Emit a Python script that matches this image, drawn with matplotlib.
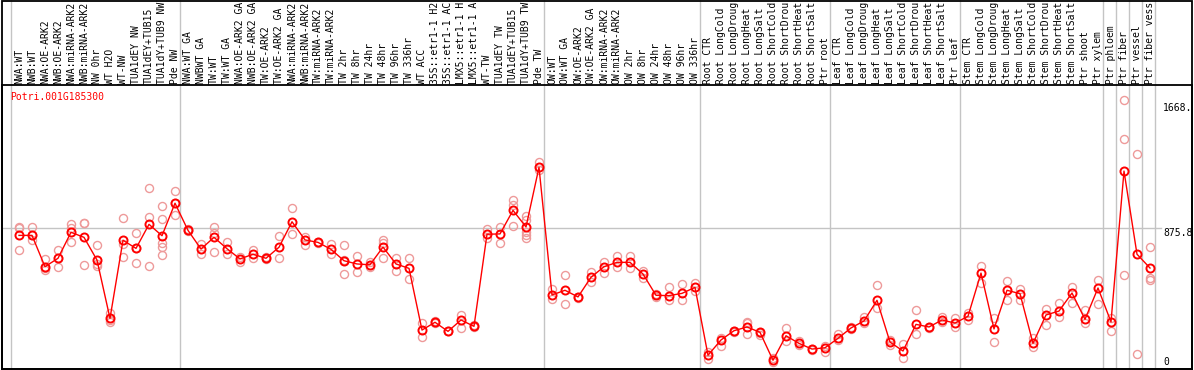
import matplotlib
matplotlib.use("Agg")
import matplotlib.pyplot as plt
from matplotlib.patches import Rectangle

# ---------------- data ----------------
gene_id = "Potri.001G185300"

# category names as displayed (the source chart shows at most 14 characters)
categories = [
    "NWA:WT", "NWB:WT", "NWA:OE-ARK2", "NWB:OE-ARK2", "NWA:miRNA-ARK2", "NWB:miRNA-ARK2",
    "NW 0hr", "WT H2O", "WT-NW", "TUA1dEY NW", "TUA1dEY+TUB15", "TUA1dY+TUB9 NW", "Pde NW",
    "NWA:WT GA", "NWBWT GA", "TW:WT", "TW:WT GA", "NWA:OE-ARK2 GA", "NWB:OE-ARK2 GA",
    "TW:OE-ARK2", "TW:OE-ARK2 GA", "NWA:miRNA-ARK2", "NWB:miRNA-ARK2", "TW:miRNA-ARK2",
    "TW:miRNA-ARK2", "TW 2hr", "TW 8hr", "TW 24hr", "TW 48hr", "TW 96hr", "TW 336hr",
    "WT ACC", "35S::etr1-1 H2", "35S::etr1-1 AC", "LMX5::etr1-1 H", "LMX5::etr1-1 A",
    "WT-TW", "TUA1dEY TW", "TUA1dEY+TUB15", "TUA1dY+TUB9 TW", "Pde TW",
    "OW:WT", "OW:WT GA", "OW:OE-ARK2", "OW:OE-ARK2 GA", "OW:miRNA-ARK2", "OW:miRNA-ARK2",
    "OW 2hr", "OW 8hr", "OW 24hr", "OW 48hr", "OW 96hr", "OW 336hr",
    "Root CTR", "Root LongCold", "Root LongDroug", "Root LongHeat", "Root LongSalt",
    "Root ShortCold", "Root ShortDrou", "Root ShortHeat", "Root ShortSalt", "Ptr root",
    "Leaf CTR", "Leaf LongCold", "Leaf LongDroug", "Leaf LongHeat", "Leaf LongSalt",
    "Leaf ShortCold", "Leaf ShortDrou", "Leaf ShortHeat", "Leaf ShortSalt", "Ptr leaf",
    "Stem CTR", "Stem LongCold", "Stem LongDroug", "Stem LongHeat", "Stem LongSalt",
    "Stem ShortCold", "Stem ShortDrou", "Stem ShortHeat", "Stem ShortSalt", "Ptr shoot",
    "Ptr xylem", "Ptr phloem", "Ptr fiber", "Ptr vessel", "Ptr fiber vess",
]

mean_values = [
    832, 832, 639, 691, 851, 820, 680, 321, 802, 752, 900, 830, 1030,
    863, 748, 820, 750, 687, 716, 691, 759, 916, 804, 789, 746, 676, 656, 651, 760, 656, 629,
    249, 297, 241, 311, 272, 839, 841, 986, 884, 1251,
    465, 494, 453, 574, 639, 666, 666, 594, 463, 461, 475, 512,
    94, 188, 245, 268, 235, 63, 214, 167, 132, 140,
    198, 262, 305, 432, 175, 120, 284, 268, 311, 292,
    334, 600, 256, 494, 473, 167, 342, 366, 477, 315,
    508, 299, 1228, 716, 631,
]

replicates = [
    [885, 876, 740], [884, 804, 834], [685, 620, 629], [740, 637, 693], [902, 876, 789],
    [910, 906, 650], [773, 656, 643], [352, 300, 311], [939, 777, 697], [845, 662, 754],
    [1124, 945, 643], [1013, 931, 783, 762, 711], [1105, 956, 1031], [871, 859, 865],
    [779, 716], [885, 845, 728], [792, 716], [701, 670], [742, 691], [698, 687], [826, 691],
    [1001, 841], [824, 773], [793, 785], [779, 717], [773, 680, 592], [705, 608], [666, 639],
    [804, 783, 691], [691, 613], [691, 562], [294, 206], [305, 293], [245, 243], [342, 262],
    [280, 266], [869, 814], [885, 783], [1050, 1019, 890], [951, 927, 855, 834, 814],
    [1286, 1234], [500, 438], [586, 409], [454, 446], [608, 547], [666, 599], [707, 635],
    [707, 629], [613, 568], [471, 454], [512, 434], [531, 434], [541, 490], [116, 73],
    [198, 151], [245, 240], [300, 291, 223], [219, 231], [75, 54], [260, 183], [183, 157],
    [132, 126], [151, 116], [225, 188], [270, 256], [331, 291], [526, 383], [188, 157],
    [163, 75], [373, 223], [268, 262], [328, 297], [321, 266], [356, 311], [643, 541],
    [321, 177], [553, 434], [500, 434], [198, 143], [377, 280], [414, 331], [512, 414],
    [373, 291], [557, 408], [325, 243], [1668, 1424, 586], [1331, 102], [759, 571, 557],
]

ytick_values = [1668, 875.8, 0]
ytick_labels = ["1668.", "875.8", "0"]
separator_after = [-1, 12, 40, 52, 62, 72, 83, 84, 85, 86, 87]

# ---------------- layout ----------------
W, H = 1194, 370
fig = plt.figure(figsize=(W / 100, H / 100), dpi=100)
L, R, T, B = 1.5, 1192, 85, 369
ax = fig.add_axes([L / W, (H - B) / H, (R - L) / W, (B - T) / H])
ax.set_xlim((L - 19) / 13, (R - 19) / 13)
ax.set_ylim((370.5 - B) / 0.1624, (370.5 - T) / 0.1624)
ax.set_xticks([])
ax.set_yticks([])
for s in ax.spines.values():
    s.set_color("black")
    s.set_linewidth(1.3)

mono = "DejaVu Sans Mono"
fs = 7.0

# grid lines
for s in separator_after:
    ax.axvline(s + 0.41, ymin=0, ymax=B / (B - T), clip_on=False,
               color="#c4c4c4", lw=1.0, zorder=1)
ax.axhline(ytick_values[1], xmin=0, xmax=(1161 - L) / (R - L), color="#c4c4c4",
           lw=1.0, zorder=1)

# outer frame for the label area
fig.add_artist(Rectangle((L / W, (H - B) / H), (R - L) / W, (B - 0.6) / H,
                         transform=fig.transFigure, fill=False, ec="black", lw=1.3))

# replicates
for i, reps in enumerate(replicates):
    ax.plot([i] * len(reps), reps, linestyle="none", marker="o", ms=5.8,
            mfc="none", mec="#ee9a9a", mew=1.0, zorder=2)

# means
ax.plot(range(len(mean_values)), mean_values, color="#ff0000", lw=1.0, zorder=3)
ax.plot(range(len(mean_values)), mean_values, linestyle="none", marker="o", ms=5.8,
        mfc="none", mec="#ff0000", mew=1.4, zorder=4)

# category labels (rotated, above the plot)
for i, c in enumerate(categories):
    ax.annotate(c, xy=(i, 1), xycoords=("data", "axes fraction"), xytext=(0, 1.5),
                textcoords="offset pixels", rotation=90, ha="center", va="bottom",
                family=mono, fontsize=fs, color="black", annotation_clip=False)

# gene id
ax.annotate(gene_id, xy=(0, 1), xycoords="axes fraction", xytext=(8.5, -12),
            textcoords="offset pixels", ha="left", va="center", family=mono,
            fontsize=fs, color="#ff0000")

# value labels on the right
label_offsets = [-8, -4.4, 8.8]
for v, lab, off in zip(ytick_values, ytick_labels, label_offsets):
    ax.annotate(lab, xy=(1, v), xycoords=("axes fraction", "data"), xytext=(-29, off),
                textcoords="offset pixels", ha="left", va="center", family=mono,
                fontsize=fs, color="black", annotation_clip=False)

fig.savefig("out.png", dpi=100)
